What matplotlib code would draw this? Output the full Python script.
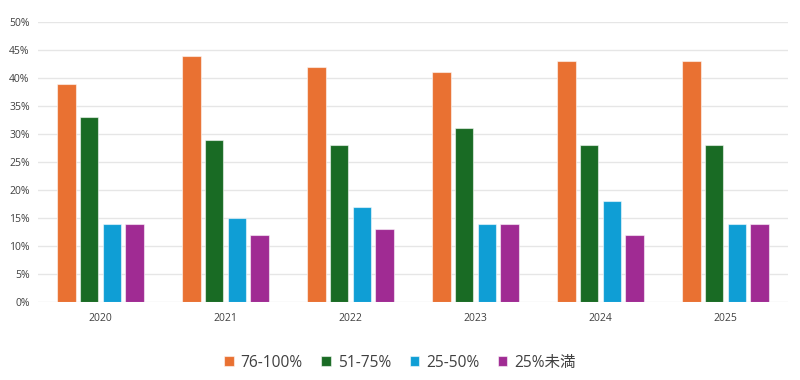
import matplotlib
matplotlib.use("Agg")
import matplotlib.pyplot as plt
import numpy as np

plt.rcParams['font.family'] = ['Open Sans', 'Noto Sans CJK JP', 'DejaVu Sans']

# データ
years = ["2020", "2021", "2022", "2023", "2024", "2025"]
series_names = ["76-100%", "51-75%", "25-50%", "25%未満"]
v76_100 = [39, 44, 42, 41, 43, 43]
v51_75 = [33, 29, 28, 31, 28, 28]
v25_50 = [14, 15, 17, 14, 18, 14]
v25_under = [14, 12, 13, 14, 12, 14]
colors = ["#E97132", "#196B24", "#0F9ED5", "#A02B93"]

fig = plt.figure(figsize=(8, 3.8), dpi=100)
ax = fig.add_axes([0.0475, 0.205, 0.9375, 0.737])

x = np.arange(len(years))
w = 0.146
offsets = np.array([-1.5, -0.5, 0.5, 1.5]) * 0.181
for i, vals in enumerate([v76_100, v51_75, v25_50, v25_under]):
    ax.bar(x + offsets[i], vals, w, color=colors[i], edgecolor=(1, 1, 1, 0.55),
           linewidth=0.8, label=series_names[i], zorder=3)

ax.set_xlim(-0.5, len(years) - 0.5)
ax.set_ylim(0, 50)
ax.set_yticks(range(0, 51, 5))
ax.set_yticklabels([f"{t}%" for t in range(0, 51, 5)])
ax.set_xticks(x)
ax.set_xticklabels(years)
ax.tick_params(axis="both", length=0, labelsize=7.5, colors="#404040")
ax.tick_params(axis="x", pad=8)
ax.tick_params(axis="y", pad=6)
ax.grid(axis="y", color="#E6E6E6", linewidth=1, zorder=0)
for s in ax.spines.values():
    s.set_visible(False)

leg = fig.legend(loc="center", bbox_to_anchor=(0.5, 0.045), ncol=4, frameon=False,
                 fontsize=11.2, handlelength=0.6, handleheight=0.6, handletextpad=0.45,
                 columnspacing=1.2)
for t in leg.get_texts():
    t.set_color("#404040")

fig.savefig("out.png", dpi=100)
